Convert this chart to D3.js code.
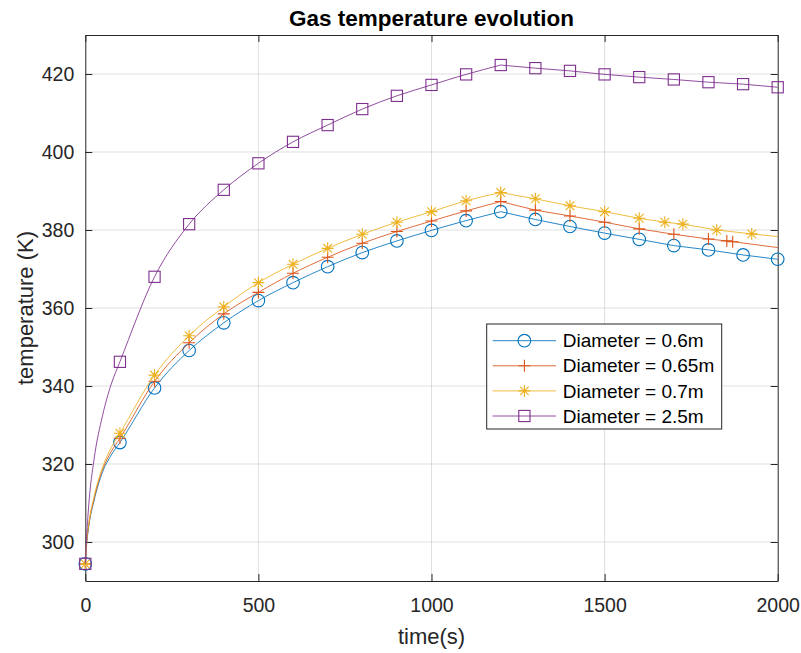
<!DOCTYPE html>
<html>
<head>
<meta charset="utf-8">
<script src="https://cdn.jsdelivr.net/npm/d3@7"></script>
<style>
  html, body { margin: 0; padding: 0; background: #fff; }
  svg { display: block; font-family: "Liberation Sans", Arial, Helvetica, sans-serif; }
</style>
</head>
<body>
<svg id="chart" width="801" height="653"></svg>
<script>
// ---------------- data ----------------
const seriesNames = ["Diameter = 0.6m", "Diameter = 0.65m", "Diameter = 0.7m", "Diameter = 2.5m"];

const blueTimes   = [0,100,200,300,400,500,600,700,800,900,1000,1100,1200,1300,1400,1500,1600,1700,1800,1900,2000];
const blueValues  = [294.4,325.5,339.5,349.1,356.2,361.9,366.5,370.6,374.2,377.2,379.9,382.4,384.7,382.7,380.9,379.2,377.6,376.0,374.9,373.6,372.5];

const orangeTimes  = [0,100,200,300,400,500,600,700,800,900,1000,1100,1200,1300,1400,1500,1600,1700,1800,1853,1870];
const orangeValues = [294.4,326.6,341.2,351.1,358.5,364.0,368.9,373.0,376.6,379.6,382.3,384.9,387.3,385.1,383.6,382.0,380.3,378.9,377.7,377.2,377.0];

const yellowTimes  = [0,100,200,300,400,500,600,700,800,900,1000,1100,1200,1300,1400,1500,1600,1674,1726,1824,1925];
const yellowValues = [294.4,327.9,342.8,352.9,360.3,366.5,371.2,375.3,378.9,382.0,384.7,387.5,389.6,388.0,386.2,384.7,383.0,382.0,381.5,380.0,379.0];

const purpleTimes  = [0,100,200,300,400,500,600,700,800,900,1000,1100,1200,1300,1400,1500,1600,1700,1800,1900,2000];
const purpleValues = [294.4,346.2,368.0,381.5,390.3,397.1,402.6,406.9,411.0,414.4,417.2,419.9,422.3,421.5,420.8,419.9,419.2,418.6,417.9,417.4,416.6];

const earlyTimes   = [3,10,25,50,75];
const blueEarly    = [298.5,304.0,310.5,318.0,322.3];
const orangeEarly  = [298.8,304.3,311.0,318.6,323.2];
const yellowEarly  = [299.0,304.6,311.5,319.2,324.2];
const purpleEarly  = [300.0,309.5,321.0,332.5,340.5];

// unmarked line ends at t = 2000
const orangeEnd = 375.5;
const yellowEnd = 378.3;

const peakTime = 1200;

const xTicks = [0,500,1000,1500,2000];
const yTicks = [300,320,340,360,380,400,420];
const xDomain = [0,2000];
const yDomain = [290,430];

const colors = ["#0072BD","#D95319","#EDB120","#7E2F8E"];
const markers = ["circle","plus","asterisk","square"];

// ---------------- layout ----------------
const L = 85.3, R = 777.7, T = 35, B = 581;
const svg = d3.select("#chart");
const x = d3.scaleLinear().domain(xDomain).range([L, R]);
const y = d3.scaleLinear().domain(yDomain).range([B, T]);
const axisColor = "#262626";
const fontTick = 19.5;

// grid
const grid = svg.append("g");
grid.selectAll("line.vx").data(xTicks.slice(1, -1)).enter().append("line")
  .attr("x1", d => x(d)).attr("x2", d => x(d)).attr("y1", T).attr("y2", B)
  .attr("stroke", "rgba(38,38,38,0.15)").attr("stroke-width", 1);
grid.selectAll("line.hy").data(yTicks).enter().append("line")
  .attr("x1", L).attr("x2", R).attr("y1", d => y(d)).attr("y2", d => y(d))
  .attr("stroke", "rgba(38,38,38,0.15)").attr("stroke-width", 1);

function styleAxis(g) {
  g.select(".domain").attr("stroke", axisColor).attr("stroke-width", 1);
  g.selectAll(".tick line").attr("stroke", axisColor).attr("stroke-width", 1);
  g.selectAll(".tick text").attr("fill", axisColor).attr("font-size", fontTick)
    .attr("font-family", '"Liberation Sans", Arial, sans-serif');
}

const fmt = d3.format("d");
svg.append("g").attr("transform", `translate(0,${B})`)
  .call(d3.axisBottom(x).tickValues(xTicks).tickFormat(fmt).tickSizeInner(-7).tickSizeOuter(0).tickPadding(17.5))
  .call(styleAxis);
svg.append("g").attr("transform", `translate(0,${T})`)
  .call(d3.axisTop(x).tickValues(xTicks).tickSizeInner(-7).tickSizeOuter(0).tickFormat(""))
  .call(styleAxis);
svg.append("g").attr("transform", `translate(${L},0)`)
  .call(d3.axisLeft(y).tickValues(yTicks).tickFormat(fmt).tickSizeInner(-7).tickSizeOuter(0).tickPadding(11))
  .call(styleAxis);
svg.append("g").attr("transform", `translate(${R},0)`)
  .call(d3.axisRight(y).tickValues(yTicks).tickSizeInner(-7).tickSizeOuter(0).tickFormat(""))
  .call(styleAxis);

// ---------------- series ----------------
function zip(ts, vs) { return ts.map((t, i) => ({ t: t, v: vs[i] })); }

const series = [
  { marks: zip(blueTimes, blueValues), early: zip(earlyTimes, blueEarly), end: null },
  { marks: zip(orangeTimes, orangeValues), early: zip(earlyTimes, orangeEarly), end: { t: 2000, v: orangeEnd } },
  { marks: zip(yellowTimes, yellowValues), early: zip(earlyTimes, yellowEarly), end: { t: 2000, v: yellowEnd } },
  { marks: zip(purpleTimes, purpleValues), early: zip(earlyTimes, purpleEarly), end: null }
];

const lineCurve = d3.line().x(d => x(d.t)).y(d => y(d.v)).curve(d3.curveMonotoneX);
const lineLin = d3.line().x(d => x(d.t)).y(d => y(d.v));

function drawMarker(g, type, cx, cy, color) {
  const s = 6;
  if (type === "circle") {
    g.append("circle").attr("cx", cx).attr("cy", cy).attr("r", 6.3)
      .attr("fill", "none").attr("stroke", color).attr("stroke-width", 1.1);
  } else if (type === "square") {
    g.append("rect").attr("x", cx - 5.6).attr("y", cy - 5.6).attr("width", 11.2).attr("height", 11.2)
      .attr("fill", "none").attr("stroke", color).attr("stroke-width", 1.1);
  } else if (type === "plus") {
    g.append("path").attr("d", `M${cx - s},${cy}H${cx + s}M${cx},${cy - s}V${cy + s}`)
      .attr("fill", "none").attr("stroke", color).attr("stroke-width", 1.1);
  } else if (type === "asterisk") {
    const a = s * 0.72;
    g.append("path").attr("d",
      `M${cx - s},${cy}H${cx + s}M${cx},${cy - s}V${cy + s}` +
      `M${cx - a},${cy - a}L${cx + a},${cy + a}M${cx - a},${cy + a}L${cx + a},${cy - a}`)
      .attr("fill", "none").attr("stroke", color).attr("stroke-width", 1.1);
  }
}

const plotG = svg.append("g");
series.forEach((s, i) => {
  const all = [s.marks[0]].concat(s.early, s.marks.slice(1));
  if (s.end) all.push(s.end);
  const rising = all.filter(d => d.t <= peakTime);
  const falling = all.filter(d => d.t >= peakTime);
  const g = plotG.append("g");
  g.append("path").attr("d", lineCurve(rising)).attr("fill", "none")
    .attr("stroke", colors[i]).attr("stroke-width", 1).attr("stroke-opacity", 0.85);
  g.append("path").attr("d", lineLin(falling)).attr("fill", "none")
    .attr("stroke", colors[i]).attr("stroke-width", 1).attr("stroke-opacity", 0.85);
  s.marks.forEach(d => drawMarker(g, markers[i], x(d.t), y(d.v), colors[i]));
});

// ---------------- texts ----------------
svg.append("text").attr("x", (L + R) / 2).attr("y", 26).attr("text-anchor", "middle")
  .attr("font-size", 22.5).attr("font-weight", "bold").attr("fill", "#000")
  .text("Gas temperature evolution");
svg.append("text").attr("x", (L + R) / 2).attr("y", 644).attr("text-anchor", "middle")
  .attr("font-size", 22).attr("fill", axisColor).text("time(s)");
svg.append("text").attr("transform", `translate(33,${(T + B) / 2}) rotate(-90)`).attr("text-anchor", "middle")
  .attr("font-size", 22).attr("fill", axisColor).text("temperature (K)");

// ---------------- legend ----------------
const lg = svg.append("g");
lg.append("rect").attr("x", 486.7).attr("y", 324).attr("width", 235).attr("height", 105)
  .attr("fill", "#fff").attr("stroke", axisColor).attr("stroke-width", 1);
seriesNames.forEach((name, i) => {
  const cy = 340.7 + i * 25.1;
  lg.append("line").attr("x1", 492.7).attr("x2", 556).attr("y1", cy).attr("y2", cy)
    .attr("stroke", colors[i]).attr("stroke-width", 1).attr("stroke-opacity", 0.85);
  drawMarker(lg, markers[i], 524.4, cy, colors[i]);
  lg.append("text").attr("x", 562.7).attr("y", cy).attr("dy", "0.35em")
    .attr("font-size", 19).attr("fill", "#000").text(name);
});
</script>
</body>
</html>
